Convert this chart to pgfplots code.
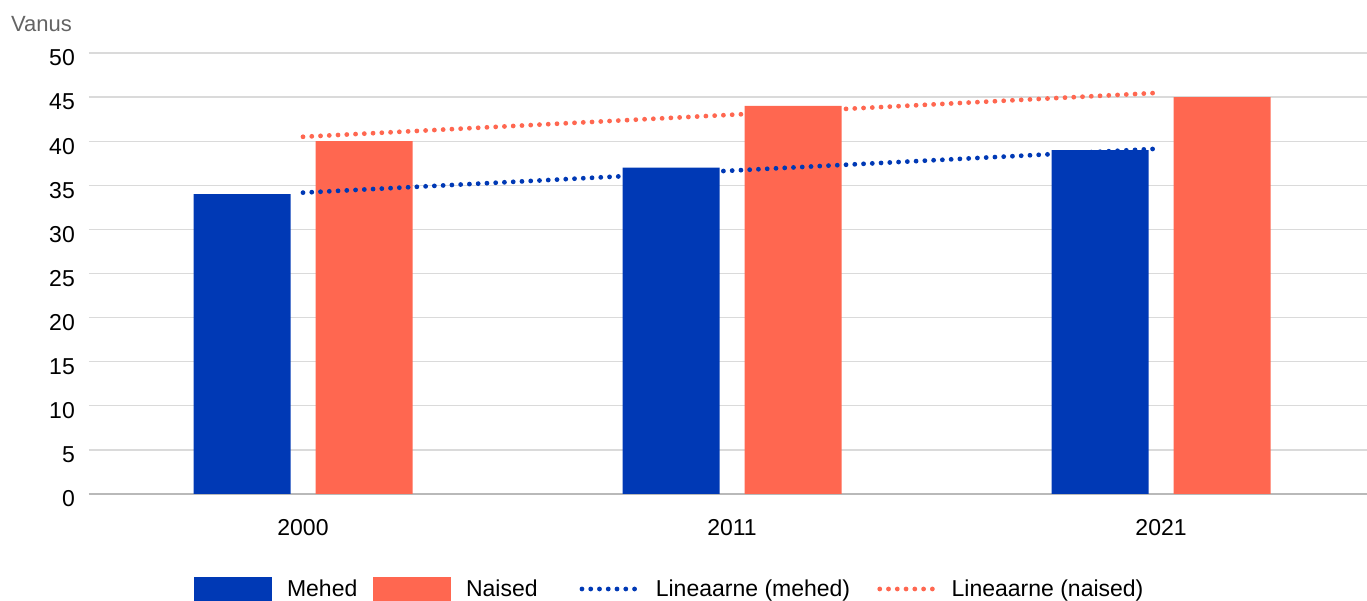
\documentclass[border=0pt]{standalone}
\usepackage{pgfplots}
\pgfplotsset{compat=1.18}
\usepackage{fontspec}
\setmainfont{Liberation Sans}
\definecolor{mblue}{RGB}{0,57,181}
\definecolor{norange}{RGB}{255,103,80}
\definecolor{gridc}{RGB}{218,218,218}
\definecolor{zeroc}{RGB}{185,185,185}
\definecolor{vanusc}{RGB}{100,100,100}
\begin{document}
\begin{tikzpicture}
\path[use as bounding box] (-89pt,-107pt) rectangle (1278pt,494pt);
\begin{axis}[
  at={(0pt,0pt)}, anchor=south west,
  scale only axis, width=1278pt, height=441pt,
  xmin=-0.4988, xmax=2.480, ymin=0, ymax=50,
  xtick={0,1,2}, xticklabels={2000,2011,2021},
  ytick={0,5,...,50},
  ymajorgrids, grid style={gridc, line width=1.3pt},
  major tick length=0pt,
  axis line style={draw=none},
  tick label style={font=\fontsize{23}{27}\selectfont, /pgf/number format/assume math mode=true},
  xticklabel style={anchor=base, inner sep=0pt, yshift=-42pt},
  yticklabel style={anchor=east, inner sep=0pt, xshift=-14pt, yshift=-5pt},
  clip=false,
  legend columns=4,
  legend style={at={(axis description cs:0.0822,-0.2154)}, anchor=west, draw=none, fill=none,
    inner sep=0pt, outer sep=0pt, column sep=0pt,
    nodes={inner sep=0pt, anchor=west, text height=16pt, text depth=0pt},
    font=\fontsize{23}{27}\selectfont},
]
\draw[zeroc, line width=1.6pt] (axis cs:-0.4988,0) -- (axis cs:2.48,0);
\addplot[ybar, bar width=97pt, bar shift=-61pt, fill=mblue, draw=none,
  legend image code/.code={\fill[mblue] (0pt,-12pt) rectangle (78pt,12pt);}]
  coordinates {(0,34) (1,37) (2,39)};
\addlegendentry{\makebox[101pt][l]{\hspace{15pt}Mehed}}
\addplot[ybar, bar width=97pt, bar shift=61pt, fill=norange, draw=none,
  legend image code/.code={\fill[norange] (0pt,-12pt) rectangle (78pt,12pt);}]
  coordinates {(0,40) (1,44) (2,45)};
\addlegendentry{\makebox[126pt][l]{\hspace{15pt}Naised}}
\addplot[mblue, line width=4.8pt, line cap=round, dash pattern=on 0pt off 8.77pt,
  legend image code/.code={\path (0pt,0pt) (57pt,0pt);\draw[mblue, line width=4.8pt, line cap=round, dash pattern=on 0pt off 8.77pt] (2.5pt,0pt) -- (56pt,0pt);}]
  coordinates {(0,34.1667) (2,39.1667)};
\addlegendentry{\makebox[236pt][l]{\hspace{17pt}Lineaarne (mehed)}}
\addplot[norange, line width=4.8pt, line cap=round, dash pattern=on 0pt off 8.77pt,
  legend image code/.code={\path (0pt,0pt) (60pt,0pt);\draw[norange, line width=4.8pt, line cap=round, dash pattern=on 0pt off 8.77pt] (2.5pt,0pt) -- (58pt,0pt);}]
  coordinates {(0,40.5) (2,45.5)};
\addlegendentry{\hspace{12pt}Lineaarne (naised)}
\node[anchor=base east, inner sep=0pt, font=\fontsize{22}{26}\selectfont, text=vanusc]
  at ([xshift=-17pt,yshift=21.3pt]rel axis cs:0,1) {Vanus};
\end{axis}
\end{tikzpicture}
\end{document}
